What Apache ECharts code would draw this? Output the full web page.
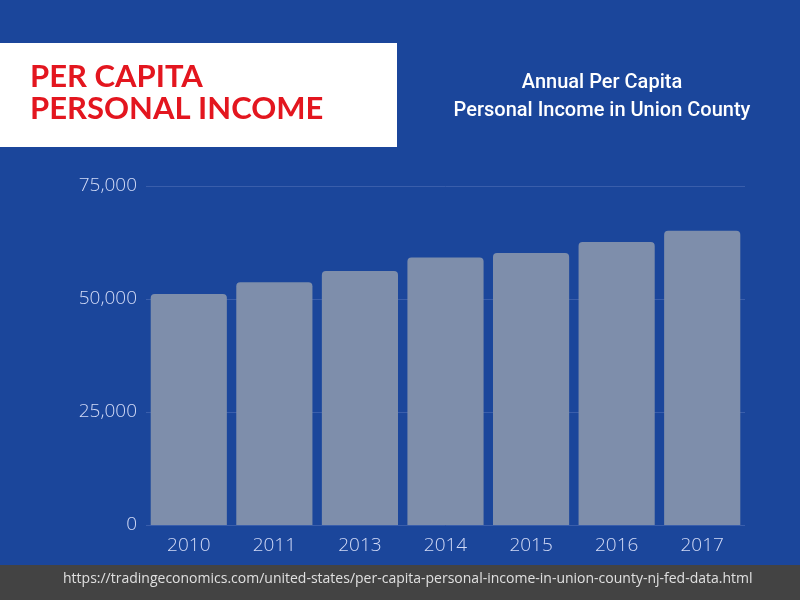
<!DOCTYPE html>
<html lang="en">
<head>
    <meta charset="UTF-8">
    <title>Per Capita Personal Income</title>
    <script src="https://cdn.jsdelivr.net/npm/echarts@6/dist/echarts.min.js"></script>
    <style>
        html, body { margin: 0; padding: 0; background: #1b469b; }
        #chart { width: 800px; height: 600px; }
    </style>
</head>
<body>
    <div id="chart"></div>
    <script>
        const years = ["2010", "2011", "2013", "2014", "2015", "2016", "2017"]
        const income = [51100, 53700, 56200, 59200, 60200, 62600, 65100]
        const yTicks = { min: 0, max: 75000, interval: 25000 }
        const sourceUrl = "https://tradingeconomics.com/united-states/per-capita-personal-income-in-union-county-nj-fed-data.html"

        const chart = echarts.init(document.getElementById("chart"))
        chart.setOption({
            animation: false,
            backgroundColor: "#1b469b",
            title: {
                text: "Annual Per Capita\nPersonal Income in Union County",
                left: 597,
                top: 64,
                textAlign: "center",
                textStyle: {
                    color: "#ffffff",
                    fontFamily: "Roboto",
                    fontWeight: 500,
                    fontSize: 20,
                    lineHeight: 28
                }
            },
            graphic: [
                {
                    type: "rect",
                    shape: { x: 0, y: 43, width: 397, height: 104 },
                    style: { fill: "#ffffff" }
                },
                {
                    type: "text",
                    left: 30,
                    top: 61,
                    style: {
                        text: "PER CAPITA\nPERSONAL INCOME",
                        fill: "#e3161f",
                        font: "bold 31px Lato",
                        lineHeight: 32
                    }
                },
                {
                    type: "rect",
                    shape: { x: 0, y: 565, width: 800, height: 35 },
                    style: { fill: "#434343" }
                },
                {
                    type: "text",
                    left: 63,
                    top: 572,
                    style: {
                        text: sourceUrl,
                        fill: "#e0e0e0",
                        font: "14px 'Open Sans'"
                    }
                }
            ],
            grid: { left: 146, right: 55, top: 186, bottom: 75 },
            xAxis: {
                type: "category",
                data: years,
                axisLine: { show: false },
                axisTick: { show: false },
                axisLabel: {
                    color: "#d3dbf7",
                    fontFamily: "Open Sans",
                    fontWeight: 300,
                    fontSize: 19,
                    margin: 11
                }
            },
            yAxis: {
                type: "value",
                min: yTicks.min,
                max: yTicks.max,
                interval: yTicks.interval,
                splitLine: { lineStyle: { color: "#3a5eab", width: 1 } },
                axisLabel: {
                    color: "#d3dbf7",
                    fontFamily: "Open Sans",
                    fontWeight: 300,
                    fontSize: 19,
                    margin: 9,
                    formatter: v => v.toLocaleString("en-US")
                }
            },
            series: [{
                type: "bar",
                data: income,
                barCategoryGap: "11%",
                itemStyle: { color: "#7e8eab", borderRadius: [4, 4, 0, 0] }
            }]
        })
    </script>
</body>
</html>
